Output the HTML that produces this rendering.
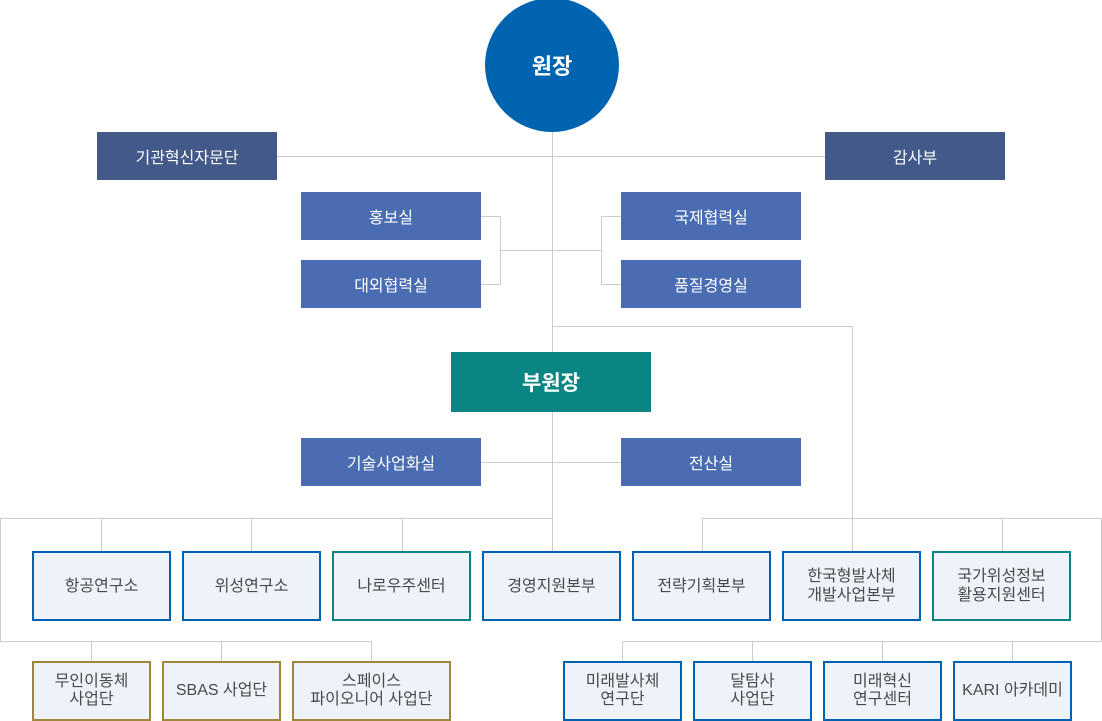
<!DOCTYPE html>
<html><head><meta charset="utf-8">
<style>
html,body{margin:0;padding:0;background:#fff;}
body{width:1102px;height:721px;position:relative;overflow:hidden;font-family:"Liberation Sans","Noto Sans CJK KR","NanumGothic",sans-serif;}
.b{position:absolute;display:flex;align-items:center;justify-content:center;text-align:center;box-sizing:border-box;}
.navy{background:#42598a;color:#fff;font-size:16px;}
.blue{background:#4a6cb2;color:#fff;font-size:16px;}
.lt{background:#eef2fb;color:#4a4a4a;font-size:16px;line-height:19px;border:2px solid #0063b1;}
.lt.t{border-color:#0c8582;}
.lt.g{border-color:#a08638;}
.sm{line-height:18px;}
svg{position:absolute;left:0;top:0;}
</style></head><body>
<svg width="1102" height="721" viewBox="0 0 1102 721">
<g stroke="#cccccc" stroke-width="1" fill="none" shape-rendering="crispEdges">
<line x1="277" y1="156.5" x2="825" y2="156.5"/>
<line x1="552.5" y1="130" x2="552.5" y2="552"/>
<line x1="481" y1="216.5" x2="500.5" y2="216.5"/>
<line x1="481" y1="284.5" x2="500.5" y2="284.5"/>
<line x1="500.5" y1="216" x2="500.5" y2="285"/>
<line x1="500" y1="250.5" x2="602" y2="250.5"/>
<line x1="601.5" y1="216" x2="601.5" y2="285"/>
<line x1="601" y1="216.5" x2="621" y2="216.5"/>
<line x1="601" y1="284.5" x2="621" y2="284.5"/>
<line x1="552" y1="326.5" x2="852.5" y2="326.5"/>
<line x1="852.5" y1="326" x2="852.5" y2="552"/>
<line x1="481" y1="462.5" x2="621" y2="462.5"/>
<line x1="0" y1="518.5" x2="553" y2="518.5"/>
<line x1="702" y1="518.5" x2="1102" y2="518.5"/>
<line x1="0.5" y1="518" x2="0.5" y2="642"/>
<line x1="1101.5" y1="518" x2="1101.5" y2="642"/>
<line x1="101.5" y1="518" x2="101.5" y2="552"/>
<line x1="251.5" y1="518" x2="251.5" y2="552"/>
<line x1="402.5" y1="518" x2="402.5" y2="552"/>
<line x1="702.5" y1="518" x2="702.5" y2="552"/>
<line x1="1002.5" y1="518" x2="1002.5" y2="552"/>
<line x1="0" y1="641.5" x2="372" y2="641.5"/>
<line x1="622" y1="641.5" x2="1102" y2="641.5"/>
<line x1="91.5" y1="641" x2="91.5" y2="662"/>
<line x1="221.5" y1="641" x2="221.5" y2="662"/>
<line x1="371.5" y1="641" x2="371.5" y2="662"/>
<line x1="622.5" y1="641" x2="622.5" y2="662"/>
<line x1="752.5" y1="641" x2="752.5" y2="662"/>
<line x1="882.5" y1="641" x2="882.5" y2="662"/>
<line x1="1012.5" y1="641" x2="1012.5" y2="662"/>
</g>
<circle cx="552" cy="65" r="67" fill="#0064b1"/>
</svg>
<div class="b" style="left:485px;top:-2px;width:134px;height:134px;color:#fff;font-size:22px;font-weight:bold;">원장</div>

<div class="b navy" style="left:97px;top:132px;width:180px;height:48px;">기관혁신자문단</div>
<div class="b navy" style="left:825px;top:132px;width:180px;height:48px;">감사부</div>

<div class="b blue" style="left:301px;top:192px;width:180px;height:48px;">홍보실</div>
<div class="b blue" style="left:301px;top:260px;width:180px;height:48px;">대외협력실</div>
<div class="b blue" style="left:621px;top:192px;width:180px;height:48px;">국제협력실</div>
<div class="b blue" style="left:621px;top:260px;width:180px;height:48px;">품질경영실</div>

<div class="b" style="left:451px;top:352px;width:200px;height:60px;background:#0a8584;color:#fff;font-size:21px;font-weight:bold;">부원장</div>

<div class="b blue" style="left:301px;top:438px;width:180px;height:48px;">기술사업화실</div>
<div class="b blue" style="left:621px;top:438px;width:180px;height:48px;">전산실</div>

<div class="b lt" style="left:32px;top:551px;width:139px;height:70px;">항공연구소</div>
<div class="b lt" style="left:182px;top:551px;width:139px;height:70px;">위성연구소</div>
<div class="b lt t" style="left:332px;top:551px;width:139px;height:70px;">나로우주센터</div>
<div class="b lt" style="left:482px;top:551px;width:139px;height:70px;">경영지원본부</div>
<div class="b lt" style="left:632px;top:551px;width:139px;height:70px;">전략기획본부</div>
<div class="b lt" style="left:782px;top:551px;width:139px;height:70px;">한국형발사체<br>개발사업본부</div>
<div class="b lt t" style="left:932px;top:551px;width:139px;height:70px;">국가위성정보<br>활용지원센터</div>

<div class="b lt g sm" style="left:32px;top:661px;width:119px;height:60px;">무인이동체<br>사업단</div>
<div class="b lt g sm" style="left:162px;top:661px;width:119px;height:60px;">SBAS 사업단</div>
<div class="b lt g sm" style="left:292px;top:661px;width:159px;height:60px;">스페이스<br>파이오니어 사업단</div>

<div class="b lt sm" style="left:563px;top:661px;width:119px;height:60px;">미래발사체<br>연구단</div>
<div class="b lt sm" style="left:693px;top:661px;width:119px;height:60px;">달탐사<br>사업단</div>
<div class="b lt sm" style="left:823px;top:661px;width:119px;height:60px;">미래혁신<br>연구센터</div>
<div class="b lt sm" style="left:953px;top:661px;width:119px;height:60px;">KARI 아카데미</div>
</body></html>
